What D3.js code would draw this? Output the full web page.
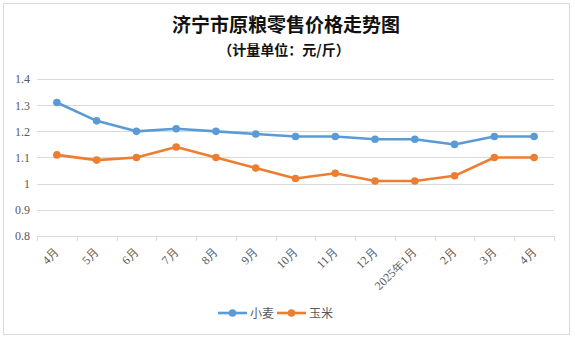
<!DOCTYPE html>
<html><head><meta charset="utf-8">
<script src="https://cdn.jsdelivr.net/npm/d3@7"></script>
<style>body{margin:0;background:#fff}</style>
</head><body>
<svg id="c" width="575" height="338"></svg>
<script>
const categories = ["4月","5月","6月","7月","8月","9月","10月","11月","12月","2025年1月","2月","3月","4月"];
const wheat = [1.31,1.24,1.20,1.21,1.20,1.19,1.18,1.18,1.17,1.17,1.15,1.18,1.18];
const corn  = [1.11,1.09,1.10,1.14,1.10,1.06,1.02,1.04,1.01,1.01,1.03,1.10,1.10];
const yTicks = [0.8,0.9,1,1.1,1.2,1.3,1.4];
const seriesNames = ["小麦","玉米"];
const colors = ["#5B9BD5","#ED7D31"];

(function(){
const svg = d3.select("#c");
svg.append("rect").attr("x",3.5).attr("y",3.5).attr("width",566).attr("height",331)
  .attr("fill","#fff").attr("stroke","#d9d9d9").attr("stroke-width",1);

const pL=37, pR=554, pT=79, pB=236;
const idx = d3.range(categories.length);
const x = d3.scaleBand().domain(idx).range([pL,pR]).padding(0);
const y = d3.scaleLinear().domain([0.8,1.4]).range([pB,pT]);
const serif = "'Liberation Serif','Times New Roman',serif";

// grid
svg.append("g").selectAll("line").data(yTicks.slice(1)).join("line")
  .attr("x1",pL).attr("x2",pR).attr("y1",d=>Math.round(y(d))+0.5).attr("y2",d=>Math.round(y(d))+0.5)
  .attr("stroke","#d9d9d9").attr("stroke-width",1);

// y axis labels
const yAxis = d3.axisLeft(y).tickValues(yTicks).tickSize(0).tickPadding(7).tickFormat(d=>String(d));
const gy = svg.append("g").attr("transform",`translate(${pL},0)`).call(yAxis);
gy.select(".domain").remove();
gy.selectAll("text").attr("font-family",serif).attr("font-size",12).attr("fill","#595959");

// x axis
const xAxis = d3.axisBottom(x).tickSize(0).tickFormat(i=>categories[i]);
const gx = svg.append("g").attr("transform",`translate(0,${Math.round(pB)+0.5})`).call(xAxis);
gx.select(".domain").attr("stroke","#d9d9d9").attr("d",`M${pL},0H${pR}`);
gx.selectAll(".tick line").remove();
gx.selectAll(".tick text")
  .attr("font-family",serif).attr("font-size",12).attr("fill","#595959")
  .attr("text-anchor","end").attr("dy","0.35em").attr("y",0)
  .attr("transform","translate(0,13) rotate(-45)");
// boundary ticks
const bounds = idx.map(i=>x(i)).concat([pR]);
svg.append("g").selectAll("line").data(bounds).join("line")
  .attr("x1",d=>Math.round(d)+0.5).attr("x2",d=>Math.round(d)+0.5)
  .attr("y1",Math.round(pB)).attr("y2",Math.round(pB)+5)
  .attr("stroke","#d9d9d9");

const cx = i=>x(i)+x.bandwidth()/2;
[wheat,corn].forEach((data,k)=>{
  const line = d3.line().x((d,i)=>cx(i)).y(d=>y(d));
  svg.append("path").datum(data).attr("d",line).attr("fill","none")
    .attr("stroke",colors[k]).attr("stroke-width",2.6).attr("stroke-linejoin","round");
  svg.append("g").selectAll("circle").data(data).join("circle")
    .attr("cx",(d,i)=>cx(i)).attr("cy",d=>y(d)).attr("r",3.8).attr("fill",colors[k]);
});

// title
svg.append("text").attr("x",286).attr("y",32).attr("text-anchor","middle")
  .attr("font-family","'Noto Sans CJK SC',sans-serif").attr("font-weight","bold").attr("font-size",19)
  .attr("fill","#111").text("济宁市原粮零售价格走势图");
svg.append("text").attr("x",284).attr("y",55).attr("text-anchor","middle")
  .attr("font-family","'Noto Sans CJK SC',sans-serif").attr("font-weight","bold").attr("font-size",14)
  .attr("fill","#111").text("（计量单位：元/斤）");

// legend
const legX = [218,277];
seriesNames.forEach((n,k)=>{
  const g = svg.append("g");
  g.append("line").attr("x1",legX[k]).attr("x2",legX[k]+29).attr("y1",313).attr("y2",313)
    .attr("stroke",colors[k]).attr("stroke-width",2.6);
  g.append("circle").attr("cx",legX[k]+14.5).attr("cy",313).attr("r",3.8).attr("fill",colors[k]);
  g.append("text").attr("x",legX[k]+32).attr("y",317.5).attr("font-family","'Noto Sans CJK SC',sans-serif")
    .attr("font-size",12).attr("fill","#595959").text(n);
});
})();
</script>
</body></html>
